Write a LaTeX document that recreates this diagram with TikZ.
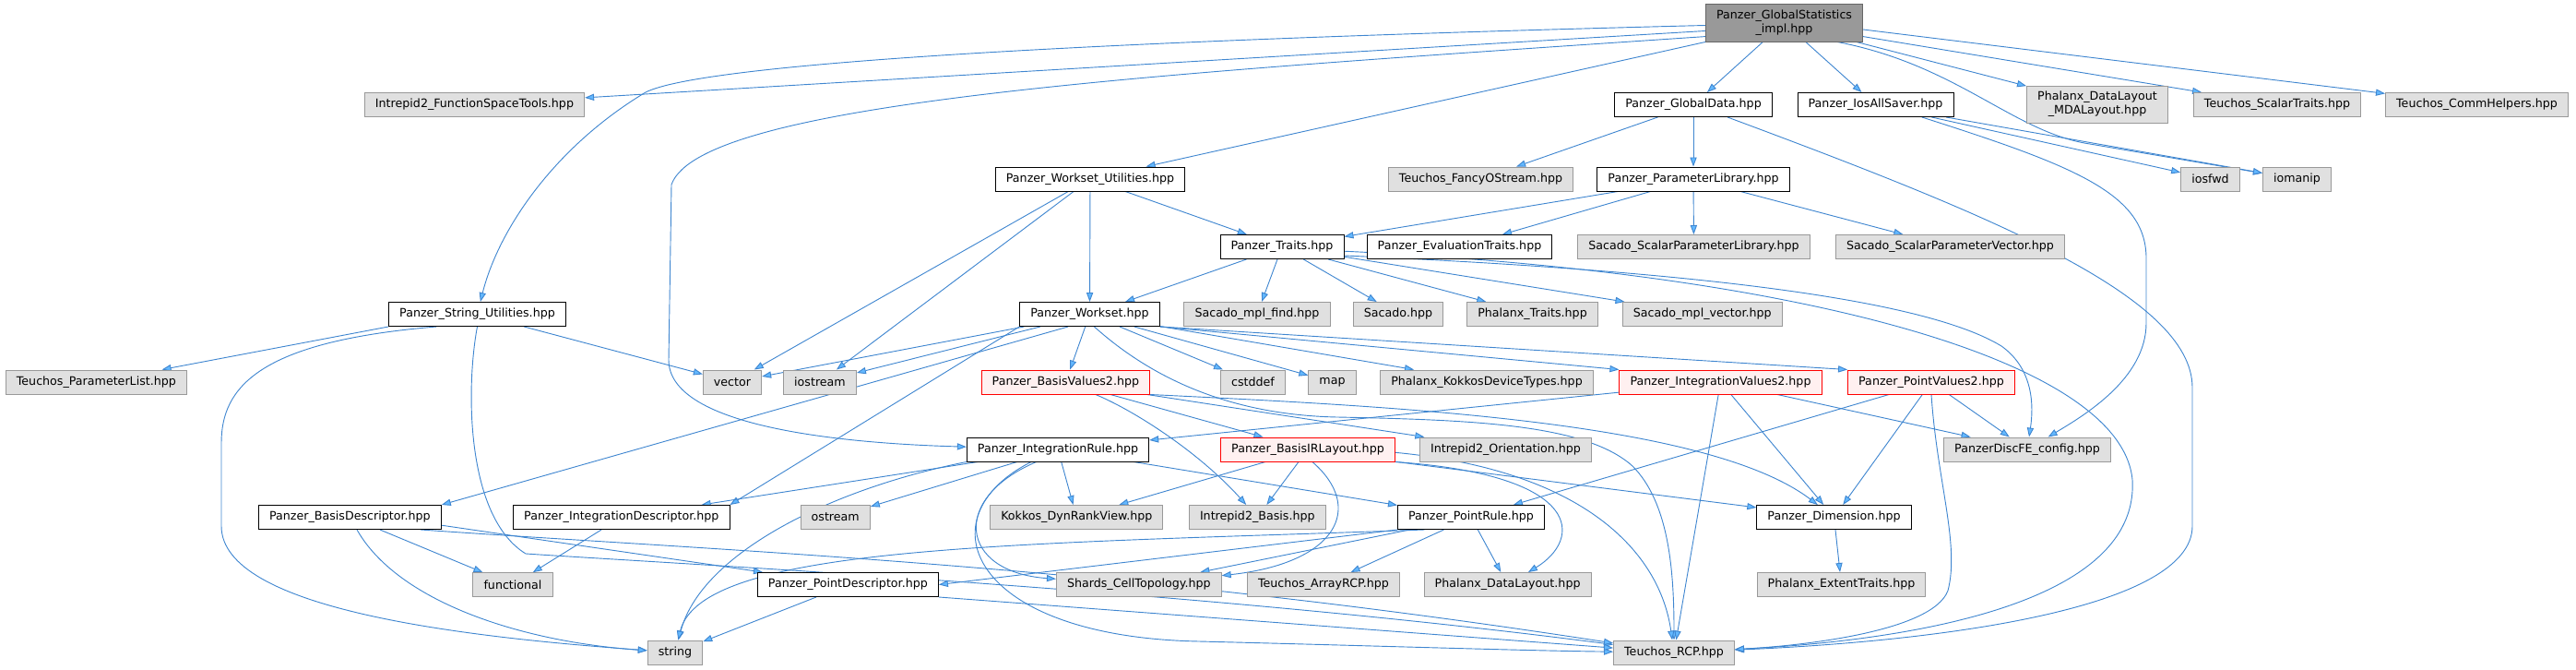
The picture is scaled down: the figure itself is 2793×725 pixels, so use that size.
\documentclass[tikz,border=0pt]{standalone}
\usepackage{fontspec}
\setmainfont{DejaVu Sans}
\usetikzlibrary{arrows.meta,backgrounds}
\definecolor{edgeblue}{HTML}{3F86D0}
\definecolor{tipblue}{HTML}{63B8FF}
\definecolor{extfill}{HTML}{E0E0E0}
\definecolor{extline}{HTML}{999999}
\definecolor{rootfill}{HTML}{999999}
\definecolor{rootline}{HTML}{666666}
\definecolor{redfill}{HTML}{FFF0F0}
\tikzset{incbox/.style={rectangle,draw=black,fill=white,line width=0.7pt,inner xsep=2.9mm,inner ysep=0pt,minimum height=6.5mm,font=\fontsize{9}{10.7}\selectfont}}
\tikzset{extbox/.style={incbox,draw=extline,fill=extfill}}
\tikzset{redbox/.style={incbox,draw=red,fill=redfill}}
\tikzset{rootbox/.style={incbox,draw=rootline,fill=rootfill,align=center,minimum height=10.25mm}}
\tikzset{dep/.style={draw=edgeblue,line width=0.65pt,-{Triangle[length=2.5mm,width=1.8mm,fill=tipblue]}}}

\begin{document}
\begin{tikzpicture}[x=0.25mm,y=-0.25mm]
\useasboundingbox (0,0) rectangle (2793,725);
\node (gs) at (1934.5,24.5) [rootbox] {Panzer\_GlobalStatistics\\\_impl.hpp};
\node (ifst) at (514.5,113) [extbox] {Intrepid2\_FunctionSpaceTools.hpp};
\node (gdata) at (1836,113.5) [incbox] {Panzer\_GlobalData.hpp};
\node (ios) at (2033.5,113.5) [incbox] {Panzer\_IosAllSaver.hpp};
\node (mdal) at (2274,113) [extbox,align=center,minimum height=10mm] {Phalanx\_DataLayout\\\_MDALayout.hpp};
\node (sctr) at (2469,113.5) [extbox] {Teuchos\_ScalarTraits.hpp};
\node (comm) at (2685.5,113.5) [extbox] {Teuchos\_CommHelpers.hpp};
\node (strutil) at (517.5,340.5) [incbox] {Panzer\_String\_Utilities.hpp};
\node (wsutil) at (1182,194) [incbox] {Panzer\_Workset\_Utilities.hpp};
\node (fancy) at (1605.5,194) [extbox] {Teuchos\_FancyOStream.hpp};
\node (plib) at (1836,194) [incbox] {Panzer\_ParameterLibrary.hpp};
\node (iosfwd) at (2396.5,194) [extbox] {iosfwd};
\node (iomanip) at (2490.5,194) [extbox] {iomanip};
\node (traits) at (1390,267.5) [incbox] {Panzer\_Traits.hpp};
\node (evtr) at (1582.5,267.5) [incbox] {Panzer\_EvaluationTraits.hpp};
\node (spl) at (1836.5,267.5) [extbox] {Sacado\_ScalarParameterLibrary.hpp};
\node (spv) at (2114.5,267.5) [extbox] {Sacado\_ScalarParameterVector.hpp};
\node (workset) at (1181.5,340.5) [incbox] {Panzer\_Workset.hpp};
\node (mplfind) at (1363,340.5) [extbox] {Sacado\_mpl\_find.hpp};
\node (sacado) at (1516,340.5) [extbox] {Sacado.hpp};
\node (phtraits) at (1661.5,340.5) [extbox] {Phalanx\_Traits.hpp};
\node (mplvec) at (1845.7,340.5) [extbox] {Sacado\_mpl\_vector.hpp};
\node (plist) at (104.4,414) [extbox] {Teuchos\_ParameterList.hpp};
\node (vector) at (794,414) [extbox] {vector};
\node (iostream) at (889,414) [extbox] {iostream};
\node (basisv2) at (1155.4,414) [redbox] {Panzer\_BasisValues2.hpp};
\node (cstddef) at (1358.5,414) [extbox] {cstddef};
\node (map) at (1444.5,414) [extbox] {map};
\node (kokkosdev) at (1612,414) [extbox] {Phalanx\_KokkosDeviceTypes.hpp};
\node (intv2) at (1865.5,414) [redbox] {Panzer\_IntegrationValues2.hpp};
\node (ptv2) at (2094,414) [redbox] {Panzer\_PointValues2.hpp};
\node (intrule) at (1147,487) [incbox] {Panzer\_IntegrationRule.hpp};
\node (birl) at (1418,487) [redbox] {Panzer\_BasisIRLayout.hpp};
\node (orient) at (1632.5,487) [extbox] {Intrepid2\_Orientation.hpp};
\node (discfe) at (2198,487) [extbox] {PanzerDiscFE\_config.hpp};
\node (basisdesc) at (379.4,560.5) [incbox] {Panzer\_BasisDescriptor.hpp};
\node (intdesc) at (673.8,560.5) [incbox] {Panzer\_IntegrationDescriptor.hpp};
\node (ostream) at (905.7,560.5) [extbox] {ostream};
\node (kokkosdrv) at (1167.3,560.5) [extbox] {Kokkos\_DynRankView.hpp};
\node (i2basis) at (1363.3,560.5) [extbox] {Intrepid2\_Basis.hpp};
\node (prule) at (1595,560.5) [incbox] {Panzer\_PointRule.hpp};
\node (dim) at (1988.5,560.5) [incbox] {Panzer\_Dimension.hpp};
\node (functional) at (556,633.7) [extbox] {functional};
\node (pdesc) at (919.4,633.5) [incbox] {Panzer\_PointDescriptor.hpp};
\node (shards) at (1234.8,633.5) [extbox] {Shards\_CellTopology.hpp};
\node (arrayrcp) at (1435,633.5) [extbox] {Teuchos\_ArrayRCP.hpp};
\node (phdl) at (1634.6,633.5) [extbox] {Phalanx\_DataLayout.hpp};
\node (extent) at (1996.5,633.5) [extbox] {Phalanx\_ExtentTraits.hpp};
\node (string) at (732,707) [extbox] {string};
\node (rcp) at (1815,707) [extbox] {Teuchos\_RCP.hpp};
\begin{scope}[on background layer]
\draw[dep] (gs.186) -- (ifst);
\draw[dep] (gs.182) .. controls (1150,45) and (760,70) .. (700,100) .. controls (600,160) and (540,250) .. (strutil);
\draw[dep] (gs.190) .. controls (1250,80) and (760,110) .. (728,200) -- (725,390) .. controls (725,460) and (900,480) .. (intrule);
\draw[dep] (gs.south west) -- (wsutil);
\draw[dep] (gs) -- (gdata);
\draw[dep] (gs) -- (ios);
\draw[dep] (gs.345) -- (mdal);
\draw[dep] (gs.350) -- (sctr);
\draw[dep] (gs.355) -- (comm);
\draw[dep] (gs.340) .. controls (2120,70) and (2180,140) .. (2260,155) -- (iomanip);
\draw[dep] (gdata) -- (fancy);
\draw[dep] (gdata) -- (plib);
\draw[dep] (gdata.340) .. controls (2150,230) and (2377,320) .. (2377,420) -- (2377,570) .. controls (2377,660) and (2100,695) .. (rcp);
\draw[dep] (ios) -- (iosfwd);
\draw[dep] (ios) -- (iomanip);
\draw[dep] (ios.345) .. controls (2250,180) and (2327,210) .. (2327,280) -- (2327,350) .. controls (2327,410) and (2260,450) .. (discfe);
\draw[dep] (plib) -- (traits);
\draw[dep] (plib) -- (evtr);
\draw[dep] (plib) -- (spl);
\draw[dep] (plib) -- (spv);
\draw[dep] (wsutil) -- (traits);
\draw[dep] (wsutil) -- (workset);
\draw[dep] (wsutil) -- (vector);
\draw[dep] (wsutil) -- (iostream);
\draw[dep] (traits) -- (workset);
\draw[dep] (traits) -- (mplfind);
\draw[dep] (traits) -- (sacado);
\draw[dep] (traits) -- (phtraits);
\draw[dep] (traits) -- (mplvec);
\draw[dep] (traits.352) .. controls (1800,292) and (2080,320) .. (2170,375) .. controls (2205,400) and (2205,440) .. (discfe);
\draw[dep] (traits.356) .. controls (1950,295) and (2300,390) .. (2312,520) .. controls (2320,660) and (2050,695) .. (rcp);
\draw[dep] (workset) -- (vector);
\draw[dep] (workset) -- (iostream);
\draw[dep] (workset.210) -- (basisdesc.north east);
\draw[dep] (workset.south west) -- (intdesc.north east);
\draw[dep] (workset) -- (basisv2);
\draw[dep] (workset) -- (cstddef);
\draw[dep] (workset) -- (map);
\draw[dep] (workset) -- (kokkosdev);
\draw[dep] (workset.south east) -- (intv2.north west);
\draw[dep] (workset.south east) -- (ptv2.north west);
\draw[dep] (workset.290) .. controls (1260,420) and (1350,450) .. (1450,452) .. controls (1600,455) and (1720,460) .. (1770,505) .. controls (1810,545) and (1815,620) .. (rcp);
\draw[dep] (basisv2) -- (birl);
\draw[dep] (basisv2) .. controls (1230,445) and (1300,490) .. (i2basis);
\draw[dep] (basisv2) -- (orient);
\draw[dep] (basisv2.south east) .. controls (1500,440) and (1850,455) .. (dim);
\draw[dep] (intv2) -- (intrule);
\draw[dep] (intv2) -- (dim);
\draw[dep] (intv2) -- (discfe);
\draw[dep] (intv2) -- (rcp);
\draw[dep] (ptv2) -- (prule);
\draw[dep] (ptv2) -- (dim);
\draw[dep] (ptv2) -- (discfe);
\draw[dep] (ptv2.south) .. controls (2100,520) and (2125,590) .. (2112,640) .. controls (2095,685) and (1950,700) .. (rcp);
\draw[dep] (intrule) -- (intdesc);
\draw[dep] (intrule) -- (ostream);
\draw[dep] (intrule) -- (kokkosdrv);
\draw[dep] (intrule) -- (prule);
\draw[dep] (intrule.210) .. controls (1030,540) and (1040,620) .. (shards);
\draw[dep] (intrule.205) .. controls (1000,560) and (1050,690) .. (1300,695) .. controls (1500,700) and (1650,705) .. (rcp);
\draw[dep] (intrule.south west) .. controls (900,530) and (760,600) .. (string);
\draw[dep] (birl) -- (kokkosdrv);
\draw[dep] (birl) -- (i2basis);
\draw[dep] (birl.290) .. controls (1480,550) and (1450,610) .. (shards);
\draw[dep] (birl.352) -- (dim);
\draw[dep] (birl.south east) .. controls (1720,515) and (1715,585) .. (phdl);
\draw[dep] (birl.358) .. controls (1720,510) and (1800,600) .. (rcp);
\draw[dep] (prule.south west) -- (pdesc.east);
\draw[dep] (prule.195) .. controls (1100,590) and (760,590) .. (string);
\draw[dep] (prule) -- (shards);
\draw[dep] (prule) -- (arrayrcp);
\draw[dep] (prule) -- (phdl);
\draw[dep] (dim) -- (extent);
\draw[dep] (strutil.south west) -- (plist);
\draw[dep] (strutil) -- (vector);
\draw[dep] (strutil.197) .. controls (280,370) and (240,420) .. (240,480) -- (240,570) .. controls (240,660) and (500,690) .. (string);
\draw[dep] (strutil.south) .. controls (505,420) and (505,560) .. (570,600) .. controls (750,612) and (1300,640) .. (rcp);
\draw[dep] (basisdesc) -- (functional);
\draw[dep] (basisdesc) .. controls (430,650) and (560,695) .. (string);
\draw[dep] (basisdesc.355) -- (pdesc);
\draw[dep] (basisdesc.350) .. controls (800,598) and (1200,612) .. (rcp);
\draw[dep] (intdesc) -- (functional);
\draw[dep] (pdesc) -- (string);
\draw[dep] (pdesc.south east) -- (rcp);
\end{scope}
\end{tikzpicture}
\end{document}
